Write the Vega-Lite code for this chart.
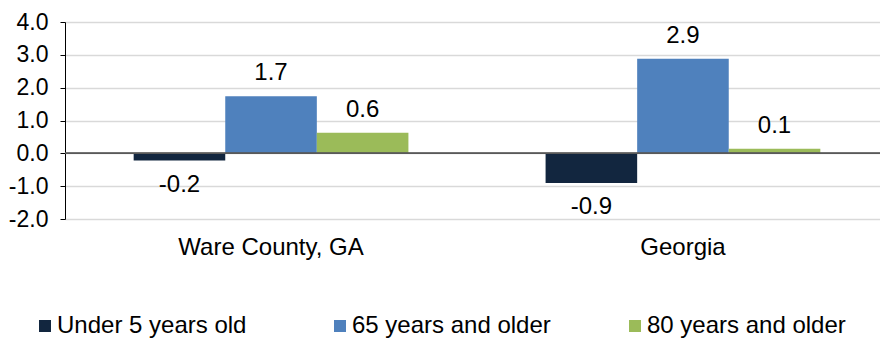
{
  "$schema": "https://vega.github.io/schema/vega-lite/v6.json",
  "width": 815,
  "height": 197,
  "autosize": {"type": "none"},
  "padding": {"left": 65, "top": 22, "right": 0, "bottom": 120},
  "background": "white",
  "config": {
    "font": "Liberation Sans",
    "view": {"stroke": null},
    "locale": {"number": {"decimal": ".", "thousands": ",", "grouping": [3], "currency": ["$", ""], "minus": "-"}},
    "axis": {"labelFont": "Liberation Sans", "labelColor": "#000000"}
  },
  "data": {
    "values": [
      {"region": "Ware County, GA", "group": "Under 5 years old", "value": -0.22},
      {"region": "Ware County, GA", "group": "65 years and older", "value": 1.74},
      {"region": "Ware County, GA", "group": "80 years and older", "value": 0.63},
      {"region": "Georgia", "group": "Under 5 years old", "value": -0.9},
      {"region": "Georgia", "group": "65 years and older", "value": 2.88},
      {"region": "Georgia", "group": "80 years and older", "value": 0.14}
    ]
  },
  "encoding": {
    "x": {
      "field": "region", "type": "nominal", "sort": ["Ware County, GA", "Georgia"],
      "scale": {"range": [0, 824], "paddingInner": 0.333, "paddingOuter": 0.1667},
      "axis": {"title": null, "labelAngle": 0, "domain": false, "ticks": false, "labelPadding": 16, "labelFontSize": 24, "labelLimit": 400, "labelColor": "#000000"}
    },
    "xOffset": {"field": "group", "type": "nominal", "sort": ["Under 5 years old", "65 years and older", "80 years and older"], "scale": {"paddingInner": 0, "paddingOuter": 0}},
    "y": {
      "field": "value", "type": "quantitative",
      "scale": {"domain": [-2, 4], "nice": false, "zero": false},
      "axis": {"title": null, "values": [-2, -1, 0, 1, 2, 3, 4], "format": ".1f", "labelOverlap": false, "labelFontSize": 23, "labelPadding": 12, "tickSize": 5, "domainColor": "#000000", "tickColor": "#000000", "gridColor": "#d9d9d9", "gridWidth": 1.5, "labelColor": "#000000"}
    }
  },
  "layer": [
    {
      "mark": {"type": "bar"},
      "encoding": {
        "color": {
          "field": "group", "type": "nominal",
          "sort": ["Under 5 years old", "65 years and older", "80 years and older"],
          "scale": {"domain": ["Under 5 years old", "65 years and older", "80 years and older"], "range": ["#12263f", "#4f81bd", "#9bbb59"]},
          "legend": {
            "title": null, "orient": "none", "direction": "horizontal", "columns": 3,
            "legendX": -32, "legendY": 292, "symbolType": "square", "symbolSize": 144,
            "symbolStrokeWidth": 0, "labelFontSize": 24, "labelColor": "#000000", "labelOffset": 0,
            "gridAlign": "all", "columnPadding": 72, "labelLimit": 400
          }
        }
      }
    },
    {
      "mark": {"type": "rule", "color": "#595959", "strokeWidth": 1.2},
      "encoding": {
        "y": {"datum": 0, "type": "quantitative", "scale": {"domain": [-2, 4], "nice": false, "zero": false},
          "axis": {"title": null, "values": [-2, -1, 0, 1, 2, 3, 4], "format": ".1f", "labelOverlap": false, "labelFontSize": 23, "labelPadding": 12, "tickSize": 5, "domainColor": "#000000", "tickColor": "#000000", "gridColor": "#d9d9d9", "gridWidth": 1.5, "labelColor": "#000000"}},
        "x": null, "xOffset": null
      }
    },
    {
      "transform": [{"filter": "datum.value >= 0"}],
      "mark": {"type": "text", "baseline": "bottom", "dy": -11, "fontSize": 24, "color": "#000000"},
      "encoding": {
        "text": {"field": "value", "type": "quantitative", "format": ".1f"}
      }
    },
    {
      "transform": [{"filter": "datum.value < 0"}],
      "mark": {"type": "text", "baseline": "top", "dy": 12, "fontSize": 24, "color": "#000000"},
      "encoding": {
        "text": {"field": "value", "type": "quantitative", "format": ".1f"}
      }
    }
  ]
}
